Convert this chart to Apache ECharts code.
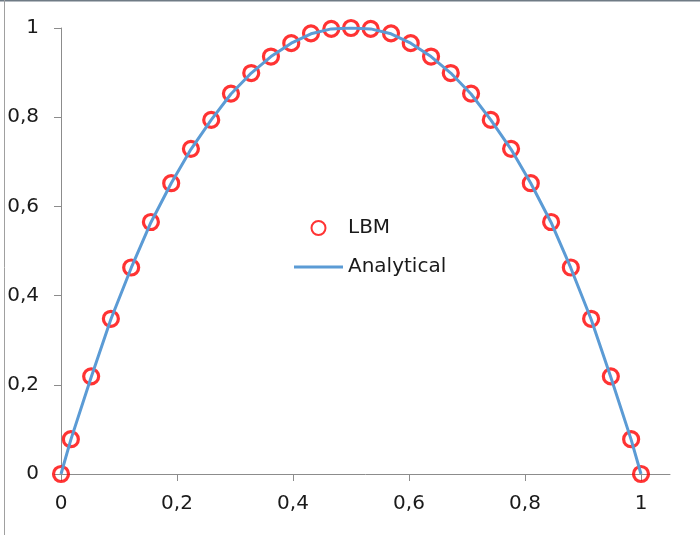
<!DOCTYPE html>
<html>
<head>
<meta charset="utf-8">
<script src="https://cdn.jsdelivr.net/npm/echarts@6/dist/echarts.min.js"></script>
<style>
html,body{margin:0;padding:0;background:#fff;}
#chart{width:700px;height:535px;}
</style>
</head>
<body>
<div id="chart"></div>
<script>
// ---- data ----
var lbmX = [0, 0.017, 0.052, 0.086, 0.121, 0.155, 0.19, 0.224, 0.259, 0.293, 0.328, 0.362, 0.397, 0.431, 0.466, 0.5,
            0.534, 0.569, 0.603, 0.638, 0.672, 0.707, 0.741, 0.776, 0.81, 0.845, 0.879, 0.914, 0.948, 0.983, 1];
var lbmY = [0, 0.078, 0.219, 0.348, 0.463, 0.565, 0.652, 0.729, 0.794, 0.853, 0.899, 0.936, 0.966, 0.988, 0.998, 1.0,
            0.998, 0.988, 0.966, 0.936, 0.899, 0.853, 0.794, 0.729, 0.652, 0.565, 0.463, 0.348, 0.219, 0.078, 0];
var analyticalX = [0, 0.017, 0.052, 0.086, 0.121, 0.155, 0.19, 0.224, 0.259, 0.293, 0.328, 0.362, 0.397, 0.431, 0.466, 0.5,
                   0.534, 0.569, 0.603, 0.638, 0.672, 0.707, 0.741, 0.776, 0.81, 0.845, 0.879, 0.914, 0.948, 0.983, 1];
var analyticalY = [0, 0.077, 0.217, 0.347, 0.462, 0.564, 0.652, 0.728, 0.794, 0.852, 0.899, 0.936, 0.966, 0.987, 0.998, 1.0,
                   0.998, 0.987, 0.966, 0.936, 0.899, 0.852, 0.794, 0.728, 0.652, 0.564, 0.462, 0.347, 0.217, 0.077, 0];
var xTickValues = [0, 0.2, 0.4, 0.6, 0.8, 1];
var xTickLabels = ['0', '0,2', '0,4', '0,6', '0,8', '1'];
var yTickLabels = ['0', '0,2', '0,4', '0,6', '0,8', '1'];
var seriesNames = ['LBM', 'Analytical'];

function pairs(xs, ys) { return xs.map(function (x, i) { return [x, ys[i]]; }); }

var chart = echarts.init(document.getElementById('chart'), null, {renderer: 'canvas'});
var axisColor = '#8c8c8c';
var textColor = '#1a1a1a';
var font = 'DejaVu Sans';

chart.setOption({
  animation: false,
  backgroundColor: '#ffffff',
  graphic: [
    {type: 'line', shape: {x1: 0, y1: 0.5, x2: 700, y2: 0.5}, style: {stroke: '#6f7b85', lineWidth: 2}},
    {type: 'line', shape: {x1: 4.5, y1: 0, x2: 4.5, y2: 535}, style: {stroke: '#a0a0a0', lineWidth: 1}}
  ],
  grid: {left: 61, top: 28, right: 30, bottom: 61, containLabel: false},
  legend: {
    orient: 'vertical',
    left: 289,
    top: 213,
    itemWidth: 49,
    itemHeight: 14,
    itemGap: 19,
    textStyle: {fontFamily: font, fontSize: 20, color: textColor},
    data: [
      {name: seriesNames[0]},
      {name: seriesNames[1], icon: 'path://M0,0L49,0L49,3L0,3Z'}
    ]
  },
  xAxis: {
    type: 'value',
    min: 0,
    max: 1.05,
    axisLine: {show: true, onZero: false, lineStyle: {color: axisColor, width: 1}},
    axisTick: {show: true, length: 7, lineStyle: {color: axisColor}, customValues: xTickValues},
    axisLabel: {
      customValues: xTickValues,
      margin: 20,
      fontFamily: font, fontSize: 20, color: textColor,
      formatter: function (v) {
        var i = xTickValues.indexOf(v);
        return i >= 0 ? xTickLabels[i] : '';
      }
    },
    splitLine: {show: false}
  },
  yAxis: {
    type: 'value',
    min: 0,
    max: 1,
    interval: 0.2,
    axisLine: {show: true, onZero: false, lineStyle: {color: axisColor, width: 1}},
    axisTick: {show: true, length: 7, lineStyle: {color: axisColor}},
    axisLabel: {
      margin: 22,
      fontFamily: font, fontSize: 20, color: textColor,
      formatter: function (v) {
        var i = Math.round(v / 0.2);
        return yTickLabels[i];
      }
    },
    splitLine: {show: false}
  },
  series: [
    {
      name: seriesNames[0],
      type: 'scatter',
      symbol: 'circle',
      symbolSize: 15,
      itemStyle: {color: 'rgba(255,255,255,0)', borderColor: '#ff0000', borderWidth: 3.2},
      data: pairs(lbmX, lbmY),
      z: 2
    },
    {
      name: seriesNames[1],
      type: 'line',
      symbol: 'none',
      showSymbol: false,
      smooth: false,
      lineStyle: {color: '#5b9bd5', width: 3},
      itemStyle: {color: '#5b9bd5'},
      data: pairs(analyticalX, analyticalY),
      z: 3
    }
  ]
});
</script>
</body>
</html>
